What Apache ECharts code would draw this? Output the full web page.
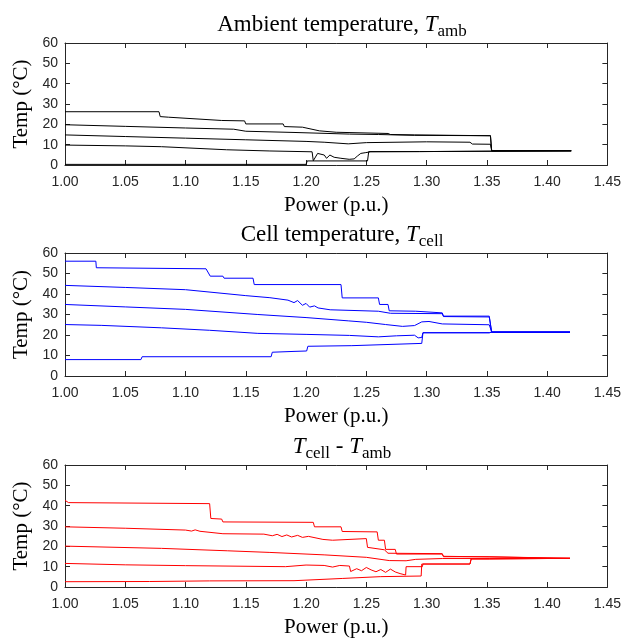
<!DOCTYPE html>
<html><head><meta charset="utf-8">
<script src="https://cdn.jsdelivr.net/npm/echarts@6/dist/echarts.min.js"></script>
<style>html,body{margin:0;padding:0;background:#fff}#c{width:624px;height:639px}</style>
</head><body><div id="c"></div>
<script>
// ---- Data: [power (p.u.), temperature (°C)] ----
const ambMax = [[1.00,26.2],[1.078,26.2],[1.079,23.8],[1.086,23.5],[1.087,22.6],[1.13,21.9],[1.149,21.7],[1.150,20.2],[1.181,20.2],[1.182,18.9],[1.197,18.6],[1.198,17.7],[1.211,16.8],[1.225,16.1],[1.268,15.5],[1.27,15.0],[1.29,14.8],[1.291,14.4],[1.353,14.4],[1.354,7.0],[1.42,7.0]];
const amb75 = [[1.00,19.8],[1.05,19.0],[1.10,18.2],[1.14,17.6],[1.15,16.6],[1.19,16.0],[1.236,15.2],[1.26,15.0],[1.29,14.6],[1.291,14.4],[1.353,14.4],[1.354,7.0],[1.42,7.0]];
const ambMed = [[1.00,14.8],[1.05,14.0],[1.10,13.2],[1.15,12.4],[1.20,11.6],[1.215,11.2],[1.235,10.4],[1.25,11.0],[1.30,11.4],[1.336,11.2],[1.338,10.3],[1.353,10.2],[1.354,7.0],[1.42,7.0]];
const amb25 = [[1.00,9.8],[1.05,9.4],[1.08,9.0],[1.134,7.5],[1.17,6.9],[1.205,6.5],[1.206,2.1],[1.2096,5.7],[1.2151,4.9],[1.217,3.3],[1.2198,4.9],[1.2233,3.8],[1.2289,3.3],[1.2358,2.8],[1.2399,3.0],[1.2426,4.4],[1.2454,5.7],[1.2496,6.1],[1.2537,6.5],[1.294,6.6],[1.295,7.0],[1.42,7.0]];
const ambMin = [[1.00,0.3],[1.20,0.3],[1.201,2.0],[1.251,2.0],[1.252,6.6],[1.294,6.6],[1.295,7.0],[1.42,7.0]];

const cellMax = [[1.00,56.0],[1.0256,56.0],[1.026,52.8],[1.117,52.3],[1.1205,48.7],[1.131,48.7],[1.132,47.7],[1.156,47.7],[1.157,44.6],[1.229,44.6],[1.230,38.1],[1.260,38.1],[1.261,34.9],[1.268,34.9],[1.269,31.8],[1.291,31.6],[1.292,30.8],[1.313,30.8],[1.314,29.2],[1.352,29.2],[1.354,21.4],[1.419,21.4]];
const cell75 = [[1.00,44.2],[1.05,43.2],[1.10,42.1],[1.15,39.2],[1.17,38.2],[1.185,37.0],[1.19,35.8],[1.193,36.8],[1.197,34.5],[1.2,35.4],[1.203,33.6],[1.207,34.2],[1.21,33.2],[1.22,32.3],[1.26,31.6],[1.27,30.6],[1.313,30.4],[1.314,29.0],[1.352,28.8],[1.354,21.4],[1.419,21.4]];
const cellMed = [[1.00,34.9],[1.05,33.7],[1.10,32.5],[1.16,30.0],[1.20,28.5],[1.235,26.9],[1.25,26.2],[1.266,25.1],[1.28,24.2],[1.29,24.6],[1.296,26.4],[1.302,26.6],[1.313,25.4],[1.352,25.0],[1.354,21.4],[1.419,21.4]];
const cell25 = [[1.00,25.1],[1.03,24.7],[1.08,23.5],[1.12,22.3],[1.16,20.8],[1.20,20.3],[1.236,19.8],[1.26,19.1],[1.275,19.6],[1.29,19.9],[1.293,18.6],[1.296,18.8],[1.297,21.1],[1.352,21.1],[1.354,21.4],[1.419,21.4]];
const cellMin = [[1.00,8.0],[1.063,8.0],[1.064,9.4],[1.171,9.4],[1.172,11.6],[1.19,12.0],[1.2005,12.2],[1.2015,14.5],[1.238,14.8],[1.239,15.6],[1.296,15.9],[1.297,21.1],[1.352,21.1],[1.354,21.4],[1.419,21.4]];

const diffMax = [[1.00,42.6],[1.003,41.5],[1.12,41.0],[1.121,33.7],[1.130,33.4],[1.131,32.0],[1.206,31.8],[1.207,29.6],[1.229,29.6],[1.230,27.3],[1.259,27.1],[1.260,23.0],[1.265,23.0],[1.266,18.5],[1.274,18.5],[1.275,16.2],[1.313,16.2],[1.314,14.9],[1.351,14.9],[1.352,14.1],[1.419,14.1]];
const diff75 = [[1.00,29.6],[1.05,28.9],[1.10,28.0],[1.105,27.5],[1.108,28.1],[1.112,27.4],[1.131,26.2],[1.165,26.0],[1.172,25.2],[1.176,25.9],[1.18,24.8],[1.184,25.6],[1.188,24.6],[1.193,25.4],[1.197,24.4],[1.202,24.9],[1.214,23.4],[1.222,23.0],[1.25,23.8],[1.251,19.5],[1.265,18.3],[1.268,16.6],[1.313,16.4],[1.314,15.1],[1.352,14.8],[1.353,14.1],[1.419,14.1]];
const diffMed = [[1.00,20.1],[1.08,19.0],[1.135,17.8],[1.17,17.0],[1.215,15.8],[1.25,14.6],[1.269,13.0],[1.283,12.9],[1.291,13.6],[1.313,14.0],[1.352,14.0],[1.353,14.1],[1.419,14.1]];
const diff25 = [[1.00,11.6],[1.05,10.9],[1.10,10.5],[1.183,10.0],[1.20,10.8],[1.215,10.6],[1.222,9.8],[1.228,10.6],[1.236,10.3],[1.237,7.6],[1.242,9.0],[1.246,8.0],[1.25,9.6],[1.254,8.4],[1.258,7.5],[1.262,8.6],[1.266,7.2],[1.27,8.8],[1.274,7.4],[1.278,6.6],[1.2826,5.9],[1.283,10.0],[1.2965,10.0],[1.297,11.3],[1.336,11.3],[1.337,13.8],[1.352,13.8],[1.353,14.1],[1.419,14.1]];
const diffMin = [[1.00,2.6],[1.07,2.7],[1.12,3.0],[1.19,3.1],[1.1915,3.8],[1.23,4.2],[1.262,5.1],[1.2955,5.4],[1.296,11.3],[1.336,11.3],[1.337,13.8],[1.352,13.8],[1.353,14.1],[1.419,14.1]];

const xMin = 1.00, xMax = 1.45, xStep = 0.05;
const yMin = 0, yMax = 60, yStep = 10;

const panels = [
  {title:'{n|Ambient temperature, }{i|T}{s|amb}', color:'#000000', series:[ambMax,amb75,ambMed,amb25,ambMin]},
  {title:'{n|Cell temperature, }{i|T}{s|cell}', color:'#0000ff', series:[cellMax,cell75,cellMed,cell25,cellMin]},
  {title:'{i|T}{s|cell}{n| - }{i|T}{s|amb}', color:'#ff0000', series:[diffMax,diff75,diffMed,diff25,diffMin]}
];
const gridPos = [{top:43,height:122},{top:253,height:123},{top:465,height:122}];
const titleTop = [5, 215, 427];

const serif = '"Liberation Serif", "DejaVu Serif", serif';
const sans = '"Liberation Sans", Arial, sans-serif';
const axCol = '#262626';
const rich = {
  n:{fontFamily:serif,fontSize:23,fontWeight:'normal',color:'#000',lineHeight:30,verticalAlign:'middle'},
  i:{fontFamily:serif,fontSize:23,fontWeight:'normal',fontStyle:'italic',color:'#000',lineHeight:30,verticalAlign:'middle'},
  s:{fontFamily:serif,fontSize:17,fontWeight:'normal',color:'#000',lineHeight:30,verticalAlign:'bottom'}
};

const option = {animation:false, backgroundColor:'#fff', title:[], grid:[], xAxis:[], yAxis:[], series:[]};
panels.forEach((p,i)=>{
  option.title.push({text:p.title, left:337, textAlign:'center', top:titleTop[i],
    textStyle:{fontWeight:'normal', rich:rich}});
  option.grid.push({left:65, width:544, top:gridPos[i].top, height:gridPos[i].height});
  const tick = {show:true, inside:true, length:5, lineStyle:{color:axCol, width:1}};
  const line = {show:true, onZero:false, lineStyle:{color:axCol, width:1}};
  option.xAxis.push({gridIndex:i, type:'value', position:'bottom', min:xMin, max:xMax, interval:xStep,
    axisLine:line, axisTick:tick, splitLine:{show:false},
    axisLabel:{margin:10, fontFamily:sans, fontSize:14, color:axCol, formatter:v=>v.toFixed(2)},
    name:'Power (p.u.)', nameLocation:'middle', nameGap:30,
    nameTextStyle:{fontFamily:serif, fontSize:21, color:'#000'}});
  option.xAxis.push({gridIndex:i, type:'value', position:'top', min:xMin, max:xMax, interval:xStep,
    axisLine:line, axisTick:tick, splitLine:{show:false}, axisLabel:{show:false}});
  option.yAxis.push({gridIndex:i, type:'value', position:'left', min:yMin, max:yMax, interval:yStep,
    axisLine:line, axisTick:tick, splitLine:{show:false},
    axisLabel:{margin:7, fontFamily:sans, fontSize:14, color:axCol},
    name:'Temp (°C)', nameLocation:'middle', nameGap:24, nameRotate:90,
    nameTextStyle:{fontFamily:serif, fontSize:21, color:'#000'}});
  option.yAxis.push({gridIndex:i, type:'value', position:'right', min:yMin, max:yMax, interval:yStep,
    axisLine:line, axisTick:tick, splitLine:{show:false}, axisLabel:{show:false}});
  p.series.forEach(d=>{
    option.series.push({type:'line', xAxisIndex:2*i, yAxisIndex:2*i, data:d, showSymbol:false, symbol:'none',
      lineStyle:{color:p.color, width:1}, itemStyle:{color:p.color}, emphasis:{disabled:true}, silent:true});
  });
});
const chart = echarts.init(document.getElementById('c'));
chart.setOption(option);
</script></body></html>
